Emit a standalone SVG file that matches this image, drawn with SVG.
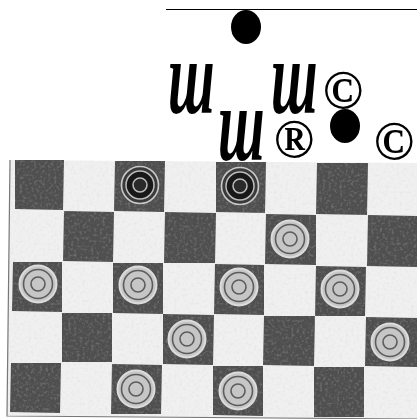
<svg xmlns="http://www.w3.org/2000/svg" width="417" height="419" viewBox="0 0 417 419">
<style>
.lt{fill:#f0f0f0}
.dk{fill:#505050}
.ln{stroke:#777;stroke-width:1.200;fill:none}
.sym{font-family:"Liberation Serif",serif;fill:#000}
.sh{font-style:italic;font-weight:bold;font-size:56px}
.mk{font-size:54px;font-weight:bold;text-anchor:middle}
.o1{fill:none;stroke:#dcdcdc;stroke-width:2}
.o2{fill:none;stroke:#5c5c5c;stroke-width:1.600}
.lp{fill:#c6c6c6}
</style>
<defs>
<filter id="tex" x="0" y="0" width="100%" height="100%"><feTurbulence type="fractalNoise" baseFrequency="0.35" numOctaves="2" seed="4"/><feColorMatrix values="0 0 0 0 0.5 0 0 0 0 0.5 0 0 0 0 0.5 0 0 0 0.5 -0.24"/><feComposite in2="SourceAlpha" operator="in" result="n"/><feMerge><feMergeNode in="SourceGraphic"/><feMergeNode in="n"/></feMerge><feGaussianBlur stdDeviation="0.7"/></filter>
<g id="lightp"><circle r="18.5" class="lp"/><circle r="18.5" class="o1"/><circle r="14.500" class="o2"/><circle r="7" class="o2"/></g>
<g id="darkp"><circle r="18.5" fill="#3a3a3a"/><circle r="18.5" fill="none" stroke="#c8c8c8" stroke-width="1.600"/><circle r="14" fill="#181818" stroke="#bdbdbd" stroke-width="1.500"/><circle r="7" fill="#2a2a2a" stroke="#bdbdbd" stroke-width="1.500"/></g>
</defs>
<rect width="417" height="419" fill="#fff"/>
<g id="board" filter="url(#tex)">
<polygon class="lt" points="10,160 417,163 417,419 7,415"/>
<g class="dk">
<polygon points="15,160 64,160 63,210 15,209"/>
<polygon points="115,161 165,161 164,212 114,211"/>
<polygon points="216,162 266,162 265,213 216,212"/>
<polygon points="317,163 368,163 367,215 316,214"/>
<polygon points="64,211 114,212 113,262 63,261"/>
<polygon points="165,212 216,213 215,263 164,263"/>
<polygon points="266,214 316,215 316,265 265,264"/>
<polygon points="368,215 417,216 417,267 367,266"/>
<polygon points="13,262 62,262 62,312 12,311"/>
<polygon points="113,263 163,263 163,314 113,313"/>
<polygon points="215,264 264,265 264,315 214,314"/>
<polygon points="316,266 366,267 365,316 315,316"/>
<polygon points="62,313 112,313 112,362 62,362"/>
<polygon points="163,314 214,315 213,365 163,364"/>
<polygon points="264,316 315,316 314,366 263,365"/>
<polygon points="366,317 417,318 417,367 365,366"/>
<polygon points="11,363 61,363 60,413 10,412"/>
<polygon points="112,364 162,365 161,414 111,414"/>
<polygon points="213,366 263,366 263,416 213,415"/>
<polygon points="314,367 364,367 364,417 314,417"/>
</g>
</g>
<g id="frame" class="ln"><path d="M10,160 L7,416 L417,419"/></g>
<g id="pieces">
<use href="#darkp" x="140" y="185"/>
<use href="#darkp" x="240" y="186"/>
<use href="#lightp" x="290" y="239"/>
<use href="#lightp" x="38" y="284"/>
<use href="#lightp" x="138" y="285"/>
<use href="#lightp" x="239" y="287"/>
<use href="#lightp" x="340" y="289"/>
<use href="#lightp" x="187" y="339"/>
<use href="#lightp" x="390" y="342"/>
<use href="#lightp" x="136" y="389"/>
<use href="#lightp" x="238" y="391"/>
</g>
<g id="notation">
<line x1="166" y1="9.500" x2="417" y2="9.500" stroke="#000" stroke-width="1.200"/>
<ellipse cx="246" cy="27" rx="15" ry="17"/>
<ellipse cx="345" cy="126" rx="15" ry="17"/>
<text class="sym sh" transform="translate(168,113) scale(1,1.900)">ш</text>
<text class="sym sh" transform="translate(271,113) scale(1,1.900)">ш</text>
<text class="sym sh" transform="translate(218,160) scale(1,1.900)">ш</text>
<text class="sym mk" x="343" y="108">©</text>
<text class="sym mk" x="294" y="157">®</text>
<text class="sym mk" x="394" y="159">©</text>
</g>
</svg>
